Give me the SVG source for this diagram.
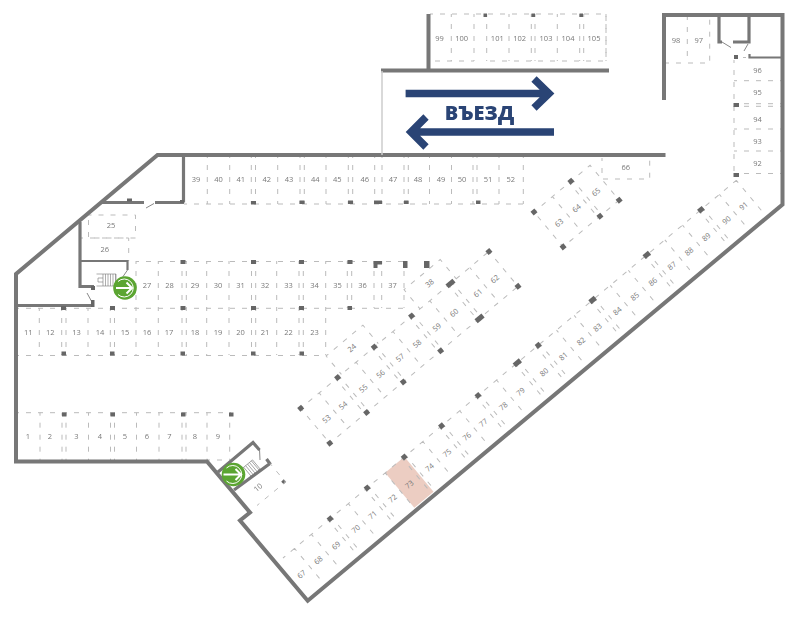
<svg xmlns="http://www.w3.org/2000/svg" width="800" height="617" viewBox="0 0 800 617">
<style>
.w{fill:none;stroke:#777;stroke-width:4;stroke-linejoin:miter}
.i{fill:none;stroke:#777;stroke-width:3.2}
.t{fill:none;stroke:#777;stroke-width:2.2}
.n{fill:none;stroke:#888;stroke-width:1}
.d{fill:none;stroke:#bbb;stroke-width:1;stroke-dasharray:5 7;stroke-dashoffset:2}
.c{fill:#666}
.a{fill:none;stroke:#2a4475;stroke-width:7.5}
text{font-family:"Open Sans","Liberation Sans",sans-serif;font-size:7.5px;fill:#777;text-anchor:middle}
.l{opacity:.99}
.e{font-size:20px;font-weight:800;fill:#2a4475}
.s{fill:none;stroke:#777;stroke-width:.6}
.g{fill:#5ba532}
.r{fill:none;stroke:#fff;stroke-width:1}
.h{fill:none;stroke:#fff;stroke-width:2}
</style>

<g id="slots">
<path class="d" d="M184 204H528M207.3 155V204M229.7 155V204M251.3 155V204M255.5 155V204M277.7 155V204M300 155V204M304.3 155V204M326 155V204M348.3 155V204M352.7 155V204M374.7 155V204M382 155V204M404 155V204M408.3 155V204M429.5 155V204M451.5 155V204M473 155V204M477 155V204M499 155V204M523.3 155V204"/>
<path class="d" d="M136 261.5H404M16 308.3H404M16 355.5H327M136 261V308M158.3 261V308M182 261V308M186.3 261V308M206.7 261V308M229 261V308M251.5 261V308M255.7 261V308M276.7 261V308M299 261V308M303.3 261V308M325.7 261V308M347.3 261V308M351.7 261V308M374 261V308M381.7 261V308M404 261V308"/>
<path class="d" d="M39.3 308V355M61.7 308V355M66 308V355M88 308V355M110.3 308V355M114.5 308V355M136 308V355M158.3 308V355M182 308V355M186.3 308V355M206.7 308V355M229 308V355M251.5 308V355M255.7 308V355M276.7 308V355M299 308V355M303.3 308V355M325.7 308V355"/>
<path class="d" d="M16 412.7H231M207 460H228M40 412.7V460M62 412.7V460M66 412.7V460M88.5 412.7V460M110.5 412.7V460M114.5 412.7V460M136.5 412.7V460M159 412.7V460M182 412.7V460M186 412.7V460M207 412.7V460M229.7 412.7V460"/>
<path class="d" d="M88.5 215H135.5V238H88.5ZM80 238H128.7M128.7 238V261"/>
<path class="d" d="M602 158V179H649.7V158"/>
<path class="d" d="M430 14H606V61H486.7M474 61H430M451.3 14V61M474 14V61M486.7 14V61M509 14V61M531.3 14V61M535 14V61M557.3 14V61M579.7 14V61M583.7 14V61M606 14V61"/>
<path class="d" d="M666 63H709.7V17M687.3 17V63"/>
<path class="d" d="M743 57.5H749M734 60V175M734 80.7H782M734 103.7H782M734 106.3H782M734 129H782M734 151H782M734 173.5H782"/>
<g transform="translate(283,558) rotate(-39.8)">
<rect x="133" y="0" width="25" height="45.5" fill="#eccdc2"/>
<path class="d" d="M0 0H590M15 0V45M37 0V45M59 0V45M63.5 0V45M85 0V45M107.2 0V45M111.8 0V45M133 0V45M155.5 0V45M160 0V45M182 0V45M204 0V45M208.6 0V45M230 0V45M251.5 0V45M256 0V45M278 0V45M302.5 0V45M307 0V45M329.7 0V45M334.5 0V45M356 0V45M379 0V45M401 0V45M405.4 0V45M426 0V45M449.5 0V45M471.3 0V45M475.7 0V45M497 0V45M520 0V45M542 0V45M546.4 0V45M568 0V45M590 0V40"/>
<g class="c"><rect x="58.8" y="-2.500" width="5" height="5"/><rect x="107" y="-2.500" width="5" height="5"/><rect x="155.300" y="-2.500" width="5" height="5"/><rect x="203.900" y="-2.500" width="5" height="5"/><rect x="251.300" y="-2.500" width="5" height="5"/><rect x="301" y="-2.500" width="8" height="5"/><rect x="329.700" y="-2.500" width="5" height="5"/><rect x="399.500" y="-2.500" width="7" height="5"/><rect x="470" y="-2.500" width="7" height="5"/><rect x="541" y="-2.500" width="6" height="5"/></g>
<g class="l"><text x="4" y="27">67</text><text x="25.8" y="27">68</text><text x="48.8" y="27">69</text><text x="74.4" y="27">70</text><text x="96.4" y="27">71</text><text x="122.4" y="27">72</text><text x="144.2" y="27">73</text><text x="170.6" y="27">74</text><text x="193.3" y="27">75</text><text x="219" y="27">76</text><text x="240.4" y="27">77</text><text x="266.5" y="27">78</text><text x="288.9" y="27">79</text><text x="319.5" y="27">80</text><text x="344.6" y="27">81</text><text x="367.7" y="27">82</text><text x="389.3" y="27">83</text><text x="415" y="27">84</text><text x="437.7" y="27">85</text><text x="461" y="27">86</text><text x="486" y="27">87</text><text x="508.3" y="27">88</text><text x="530.7" y="27">89</text><text x="557" y="27">90</text><text x="579.3" y="27">91</text></g>
</g>
<g transform="translate(300.7,408.3) rotate(-39.8)">
<path class="d" d="M0 0H245M0 45.4H245M0 0V45.4M24 0V45.4M45.8 0V45.4M50.2 0V45.4M72 0V45.4M93.5 0V45.4M97.9 0V45.4M120 0V45.4M142 0V45.4M146.5 0V45.4M168 0V45.4M192.5 0V45.4M197 0V45.4M220 0V45.4M245 0V45.4"/>
<path class="d" d="M53 0V-24H101V0M155.3 0V-25H202.4V0"/>
<g class="c"><rect x="-2.500" y="-2.500" width="5" height="5"/><rect x="45.500" y="-2.500" width="5" height="5"/><rect x="93.200" y="-2.500" width="5" height="5"/><rect x="141.800" y="-2.500" width="5" height="5"/><rect x="190.500" y="-2.500" width="9" height="5"/><rect x="242.500" y="-2.500" width="5" height="5"/><rect x="-2.500" y="42.900" width="5" height="5"/><rect x="45.500" y="42.900" width="5" height="5"/><rect x="93.200" y="42.900" width="5" height="5"/><rect x="141.800" y="42.900" width="5" height="5"/><rect x="190.500" y="42.900" width="9" height="5"/><rect x="242.500" y="42.900" width="5" height="5"/></g>
<g class="l"><text x="13" y="27.5">53</text><text x="34.4" y="27.5">54</text><text x="60.9" y="27.5">55</text><text x="83.3" y="27.5">56</text><text x="108.7" y="27.5">57</text><text x="130.7" y="27.5">58</text><text x="156.4" y="27.5">59</text><text x="179" y="27.5">60</text><text x="210" y="27.5">61</text><text x="232" y="27.5">62</text>
<text x="78" y="-11">24</text><text x="179" y="-11">38</text></g>
</g>
<g transform="translate(534,212) rotate(-39.8)">
<path class="d" d="M0 0H73V45.4H0ZM24 0V45.4M45.8 0V45.4M50.2 0V45.4"/>
<g class="c"><rect x="-2.500" y="-2.500" width="5" height="5"/><rect x="45.500" y="-2.500" width="5" height="5"/><rect x="-2.500" y="42.900" width="5" height="5"/><rect x="45.500" y="42.900" width="5" height="5"/><rect x="70.500" y="42.900" width="5" height="5"/></g>
<g class="l"><text x="12.4" y="27">63</text><text x="35.2" y="27">64</text><text x="60.4" y="27">65</text></g>
</g>
</g>

<g id="walls">
<path class="w" d="M664 100V15H782.5V204.5L307.7 600.7L240 520.5L250 512.5L207 461.5H16V274L157.5 155H665.5"/>
<path class="w" d="M428.5 14V70.5M381 70.5H609"/>
<path d="M382 71V155" fill="none" stroke="#ccc" stroke-width="1.500"/>
<path class="i" d="M183.5 155V202.5M102 202.5H144M155 202.5H184M80 222V286.5H94M16 305.5H94M719 15V42H722M733 42H749V15"/>
<path class="t" d="M80 261H127.5V270M749.5 54V57.5H782"/>
<path class="n" d="M146 208L154 203.5M127.5 270L122 278M87 293L93 304M722 42L731 47.5M748 44L744 51M259.5 449L260 460"/>
<path class="i" d="M218 472L253 442.5L259.5 450M234 490L270 463.5M266.5 459L270.5 464.5"/>
<g class="c"><rect x="127" y="198.5" width="5" height="3"/><rect x="91" y="286" width="4" height="4"/><rect x="91" y="300" width="3.500" height="7"/>
<rect x="180" y="200" width="4" height="3"/><rect x="251" y="201" width="5" height="3.500"/><rect x="299.500" y="200.500" width="5" height="3.500"/><rect x="348" y="200.500" width="5" height="3.500"/><rect x="374" y="200.500" width="8" height="3.500"/><rect x="404" y="200.500" width="4.500" height="3.500"/><rect x="476" y="200.500" width="4.500" height="3.500"/>
<rect x="61" y="306" width="5" height="4"/><rect x="110" y="306" width="5" height="4"/><rect x="180.500" y="306" width="5" height="4"/><rect x="251" y="306" width="5" height="4"/><rect x="299" y="306" width="5" height="4"/><rect x="347.500" y="306" width="4.500" height="4"/>
<rect x="180.500" y="260" width="5" height="4"/><rect x="251" y="260" width="5" height="4"/><rect x="299" y="260" width="5" height="4"/><rect x="347.500" y="260" width="5" height="4"/><path d="M373.500 261H382V264.500H377.500V268H373.500Z"/><rect x="403" y="261" width="4.500" height="7"/><rect x="424" y="261" width="5.500" height="7"/>
<rect x="61.500" y="351.500" width="4.500" height="4"/><rect x="110" y="351.500" width="4.500" height="4"/><rect x="180.500" y="351.500" width="4.500" height="4"/><rect x="251" y="351.500" width="4.500" height="4"/><rect x="299.500" y="351.500" width="4.500" height="4"/>
<rect x="62" y="412.500" width="4.500" height="4"/><rect x="110.500" y="412.500" width="4.500" height="4"/><rect x="181" y="412.500" width="4.500" height="4"/><rect x="229" y="412.500" width="4.500" height="4"/>
<rect x="483.500" y="13.500" width="3.500" height="3.500"/><rect x="531.500" y="13.500" width="3.500" height="3.500"/><rect x="579.500" y="13.500" width="3.500" height="3.500"/>
<rect x="734" y="55" width="4" height="4"/><rect x="733.500" y="103" width="5.500" height="4"/><rect x="733.500" y="173" width="5.500" height="4"/>
<rect x="282" y="480" width="3.500" height="3.500" transform="rotate(45 283.700 481.700)"/>
</g>
</g>

<g id="labels" class="l">
<text x="28" y="439">1</text><text x="50" y="439">2</text><text x="76.5" y="439">3</text><text x="100" y="439">4</text><text x="125" y="439">5</text><text x="147" y="439">6</text><text x="169.5" y="439">7</text><text x="195" y="439">8</text><text x="218" y="439">9</text>
<text x="28.3" y="335">11</text><text x="50.3" y="335">12</text><text x="76.5" y="335">13</text><text x="100" y="335">14</text><text x="125" y="335">15</text><text x="147" y="335">16</text><text x="169" y="335">17</text><text x="195" y="335">18</text><text x="218" y="335">19</text><text x="240.5" y="335">20</text><text x="265" y="335">21</text><text x="288.5" y="335">22</text><text x="314.5" y="335">23</text>
<text x="147" y="288">27</text><text x="169.5" y="288">28</text><text x="195" y="288">29</text><text x="218" y="288">30</text><text x="240.5" y="288">31</text><text x="265" y="288">32</text><text x="288.5" y="288">33</text><text x="314.5" y="288">34</text><text x="337.5" y="288">35</text><text x="362.5" y="288">36</text><text x="392.5" y="288">37</text>
<text x="196" y="182">39</text><text x="218.5" y="182">40</text><text x="240.7" y="182">41</text><text x="266.7" y="182">42</text><text x="289" y="182">43</text><text x="315.3" y="182">44</text><text x="337.3" y="182">45</text><text x="364.7" y="182">46</text><text x="393" y="182">47</text><text x="418" y="182">48</text><text x="441" y="182">49</text><text x="462" y="182">50</text><text x="488" y="182">51</text><text x="510.7" y="182">52</text>
<text x="111" y="228">25</text><text x="104.7" y="252">26</text><text x="625.7" y="170">66</text>
<text x="439.5" y="41">99</text><text x="461.7" y="41">100</text><text x="497.3" y="41">101</text><text x="519.7" y="41">102</text><text x="546" y="41">103</text><text x="568" y="41">104</text><text x="594" y="41">105</text>
<text x="676" y="43">98</text><text x="698.7" y="43">97</text>
<text x="757.5" y="72.5">96</text><text x="757.5" y="95">95</text><text x="757.5" y="121.5">94</text><text x="757.5" y="143.5">93</text><text x="757.5" y="165.5">92</text>
<g transform="translate(258,487.5) rotate(-39.8)"><text x="0" y="2.7">10</text></g>
<path class="d" d="M270 463.5L285.500 482L257 505.500"/>
</g>

<g id="arrows">
<path class="a" d="M405.600 93.500H548M534 79L549 93.500L534 108"/>
<path class="a" d="M554 132H412M426 117L411 132L426 147"/>
<text class="e" x="479.500" y="119.500">ВЪЕЗД</text>
</g>

<g id="stairs-1">
<path class="s" d="M96.500 274H116V286H96.500M103 274V286M105.500 274V286M108 274V286M110.500 274V286M113 274V286M115.500 274V286M98 278H103M98 282H103M98 278V282"/>
<circle class="g" cx="125" cy="288" r="11.800"/>
<path class="r" d="M118 281.500A9 9 0 1 1 118 294.500"/>
<path class="h" d="M116 288H132M126.500 282.500L132 288L126.500 293.500"/>
</g>
<g id="stairs-2">
<g transform="translate(251,469) rotate(-39.800)"><path class="s" d="M-7 -6H7V6H-7M-4.500 -6V6M-2 -6V6M.5 -6V6M3 -6V6M5.500 -6V6"/></g>
<circle class="g" cx="233.500" cy="474.500" r="11.800"/>
<path class="r" d="M226.500 468A9 9 0 1 1 226.500 481"/>
<path class="h" d="M223.500 474.500H241M235.500 469L241 474.500L235.500 480"/>
</g>
</svg>
